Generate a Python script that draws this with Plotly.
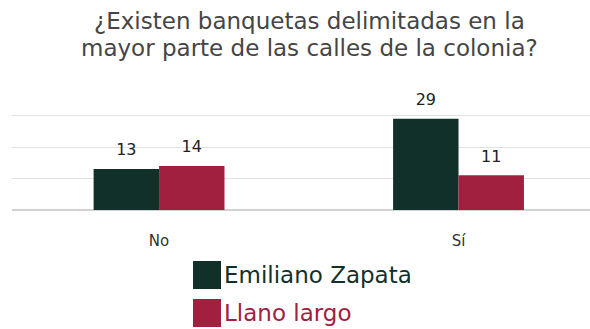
import plotly.graph_objects as go

categorias = ["No", "Sí"]
emiliano_zapata = [13, 29]
llano_largo = [14, 11]
series = ["Emiliano Zapata", "Llano largo"]
colores = ["#12302a", "#a2203f"]

titulo = ["¿Existen banquetas delimitadas en la",
          "mayor parte de las calles de la colonia?"]

FUENTE = "DejaVu Sans"
GAP = 0.563

fig = go.Figure()
for i, (nombre, valores, color) in enumerate(zip(series, [emiliano_zapata, llano_largo], colores)):
    fig.add_trace(go.Bar(
        x=categorias, y=valores, name=nombre, offsetgroup=str(i),
        marker=dict(color=color, line=dict(width=0)),
        hoverinfo="x+y+name",
    ))
    # etiquetas de valor, separadas de la barra con un marcador invisible
    fig.add_trace(go.Scatter(
        x=categorias, y=valores, offsetgroup=str(i), mode="markers+text",
        text=valores, textposition="top center", cliponaxis=False,
        marker=dict(size=14, opacity=0), hoverinfo="skip",
        textfont=dict(size=16, color="#222222", family=FUENTE),
    ))

# area del grafico: x 12..590, y 84..210 (px)
fig.update_layout(
    width=590, height=329,
    margin={"l": 12, "r": 0, "t": 84, "b": 119},
    paper_bgcolor="white", plot_bgcolor="white",
    barmode="group", bargap=GAP, bargroupgap=0,
    scattermode="group", scattergap=GAP,
    showlegend=False,
    font=dict(family=FUENTE, color="#333333"),
)
fig.update_xaxes(
    range=[-0.491, 1.439], showgrid=False, showline=False,
    ticks="outside", ticklen=17, tickcolor="rgba(0,0,0,0)",
    tickfont=dict(size=15, color="#333333"),
)
fig.update_yaxes(
    range=[0, 40], dtick=10, showticklabels=False,
    gridcolor="#e2e2e2", gridwidth=1,
    zeroline=True, zerolinecolor="#d2d2d2", zerolinewidth=1.5,
)

def py(p):
    return (210 - p) / 126

def px_(p):
    return (p - 12) / 578

for linea, yy in zip(titulo, [21, 48]):
    fig.add_annotation(xref="paper", yref="paper", x=px_(309.5), y=py(yy),
                       text=linea, showarrow=False, xanchor="center", yanchor="middle",
                       font=dict(size=23, color="#454545", family=FUENTE))

# leyenda
for nombre, color, yy in zip(series, colores, [275, 313]):
    fig.add_shape(type="rect", xref="paper", yref="paper",
                  x0=px_(193), x1=px_(221), y0=py(yy + 14), y1=py(yy - 14),
                  fillcolor=color, line=dict(width=0))
    fig.add_annotation(xref="paper", yref="paper", x=px_(222), y=py(yy),
                       text=nombre, showarrow=False, xanchor="left", yanchor="middle",
                       font=dict(size=23, color=color, family=FUENTE))

fig.write_html("out.html", config={"displayModeBar": False},
               post_script="document.body.style.margin='0';")
